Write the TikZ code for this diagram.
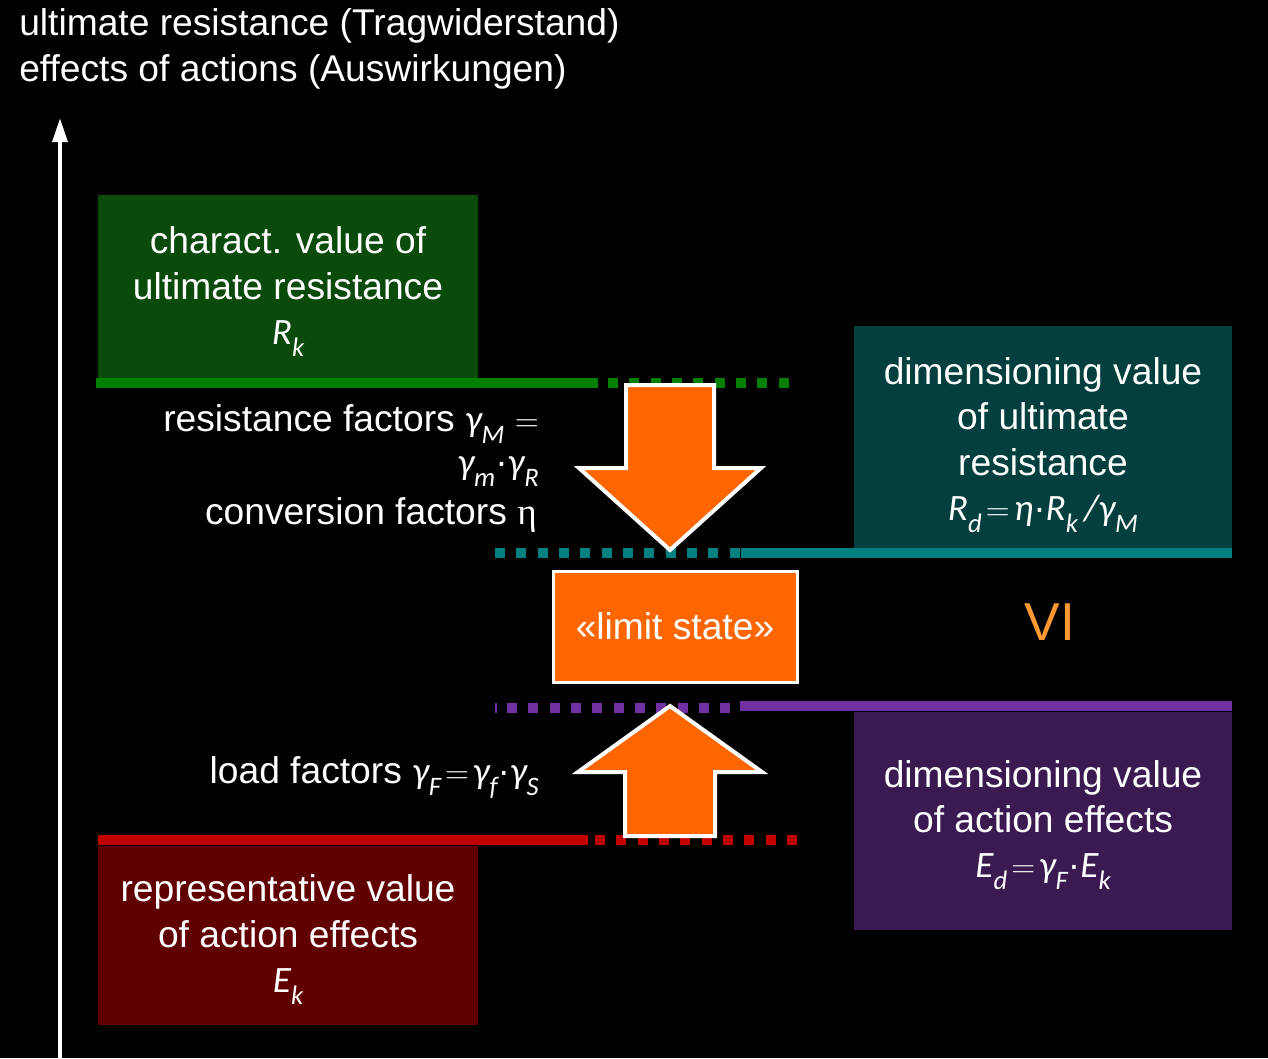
\documentclass[tikz,border=0pt]{standalone}
\usepackage{fontspec}
\setmainfont{Liberation Sans}
\newfontfamily\mfont{Carlito}
\newfontfamily\gfont{Liberation Serif}
\usetikzlibrary{arrows.meta}
\newcommand\mi[1]{{\mfont\itshape #1}}
\newcommand\msub[1]{\raisebox{-0.32em}{\fontsize{20}{20}\selectfont\mfont\itshape #1}}
\newcommand\meq{\hspace{3pt}$=$\hspace{3pt}}
\definecolor{gline}{HTML}{008000}
\definecolor{gbox}{HTML}{0A4A0A}
\definecolor{tline}{HTML}{008080}
\definecolor{tbox}{HTML}{033F3F}
\definecolor{pline}{HTML}{7030A0}
\definecolor{pbox}{HTML}{3A1A50}
\definecolor{rline}{HTML}{C00000}
\definecolor{rbox}{HTML}{600000}
\definecolor{orng}{HTML}{FF6600}
\definecolor{vicol}{HTML}{FF9933}
\tikzset{
  txt/.style={text=white, font=\fontsize{27.9}{34}\selectfont, inner sep=0pt},
  valbox/.style={inner sep=0pt, minimum width=285pt},
  boxtxt/.style={txt, align=center},
  lvl/.style={line width=7.5pt},
  dots/.style={line width=7.5pt, dash pattern=on 7.5pt off 8.5pt},
  bigarrow/.style={fill=orng, draw=white, line width=3pt, line join=miter},
}
\begin{document}
\begin{tikzpicture}[x=0.75pt,y=-0.75pt]
\useasboundingbox[fill=black] (0,0) rectangle (1268,1058);

% title
\node[txt, anchor=west] (t1) at (19,26) {ultimate resistance (Tragwiderstand)};
\node[txt, anchor=west] (t2) at (19,72) {effects of actions (Auswirkungen)};

% axis
\coordinate (axb) at (60,1058);
\coordinate (axt) at (60,118);
\draw[white, line width=3pt, -{Triangle[width=11pt,length=18pt]}] (axb) -- (axt);

% boxes
\node[valbox, fill=gbox, minimum height=137.25pt] (rk) at (288,286.5) {};
\node[boxtxt] (rkt) at (288,291.5) {charact. value of\\ultimate resistance\\\mi{R}\msub{k}};
\node[valbox, fill=tbox, minimum width=283.5pt, minimum height=166.5pt] (rd) at (1043,437) {};
\node[boxtxt] (rdt) at (1043,445) {dimensioning value\\of ultimate\\resistance\\\mi{R}\msub{d}\meq\mi{η}·\mi{R}\msub{k}\,\mi{/}\mi{γ}\msub{M}};
\node[valbox, fill=pbox, minimum width=283.5pt, minimum height=163.5pt] (ed) at (1043,821) {};
\node[boxtxt] (edt) at (1043,825) {dimensioning value\\of action effects\\\mi{E}\msub{d}\meq\mi{γ}\msub{F}·\mi{E}\msub{k}};
\node[valbox, fill=rbox, minimum height=134.25pt] (ek) at (288,935.5) {};
\node[boxtxt] (ekt) at (288,939.5) {representative value\\of action effects\\\mi{E}\msub{k}};

% level lines
\coordinate (g1) at (96,383); \coordinate (g2) at (598,383);
\coordinate (g3) at (608,383); \coordinate (g4) at (792,383);
\draw[gline, lvl] (g1) -- (g2);
\draw[gline, dots] (g3) -- (g4);

\coordinate (c1) at (495,553); \coordinate (c2) at (741,553);
\coordinate (c3) at (741,553); \coordinate (c4) at (1232,553);
\draw[tline, dots] (c1) -- (c2);
\draw[tline, lvl] (c3) -- (c4);

\coordinate (p0a) at (495.5,703); \coordinate (p0b) at (495.5,713);
\draw[pline, line width=1.5pt] (p0a) -- (p0b);
\coordinate (p1) at (507,708); \coordinate (p2) at (731,708);
\coordinate (p3) at (740,706); \coordinate (p4) at (1232,706);
\draw[pline, dots] (p1) -- (p2);
\draw[pline, lvl] (p3) -- (p4);

\coordinate (r1) at (98,840); \coordinate (r2) at (588,840);
\coordinate (r3) at (595,840); \coordinate (r4) at (798,840);
\draw[rline, lvl] (r1) -- (r2);
\draw[rline, dots] (r3) -- (r4);

% arrows
\draw[bigarrow] (626,385) -- (714,385) -- (714,468) -- (761,468) -- (670,550)
  -- (579,468) -- (626,468) -- cycle;
\draw[bigarrow] (670,706) -- (762,772) -- (715,772) -- (715,836) -- (625,836)
  -- (625,772) -- (578,772) -- cycle;

% limit state
\node[txt, fill=orng, draw=white, line width=2.25pt, minimum width=183pt, minimum height=83.25pt] (ls) at (675,626.5) {«limit state»};
\node[text=vicol, font=\fontsize{40}{40}\selectfont, inner sep=0pt] (vi) at (1050,622) {VI};

% factor labels
\node[txt, anchor=east] (f1) at (539,424) {resistance factors \mi{γ}\msub{M} $=$};
\node[txt, anchor=east] (f2) at (539,472) {\mi{γ}\msub{m}·\mi{γ}\msub{R}};
\node[txt, anchor=east] (f3) at (537,515) {conversion factors {\gfont η}};
\node[txt, anchor=east] (f4) at (539,778) {load factors \mi{γ}\msub{F}\meq\mi{γ}\msub{f}·\mi{γ}\msub{S}};
\end{tikzpicture}
\end{document}
